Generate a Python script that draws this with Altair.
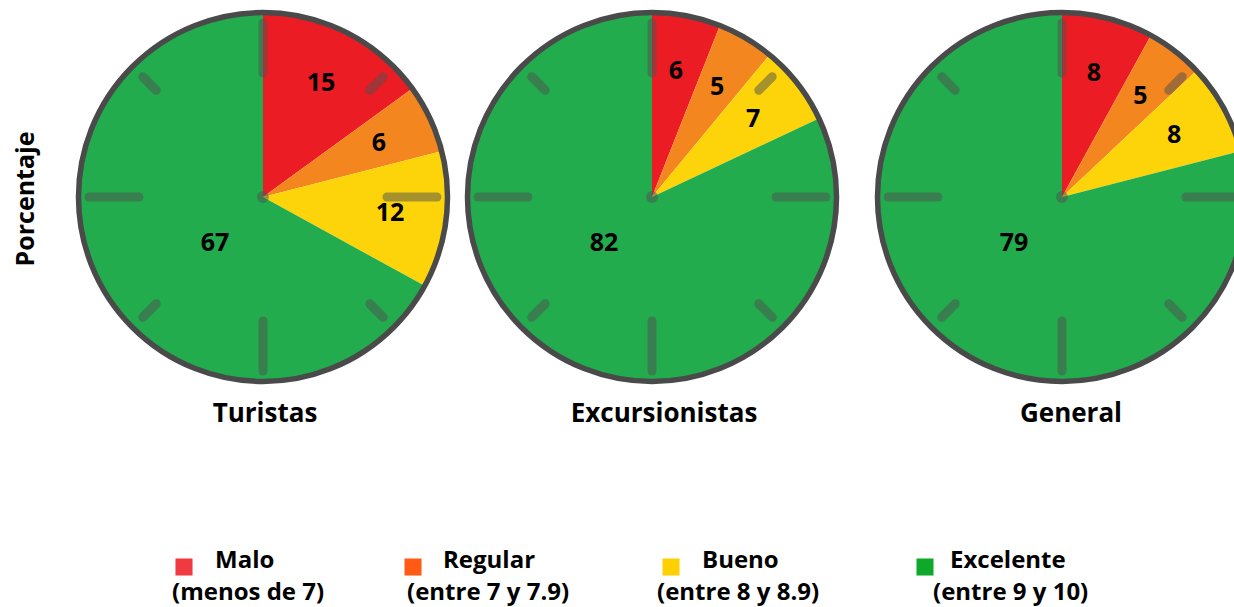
import altair as alt
import pandas as pd
import math

# ---------------- data ----------------
grupos = ["Turistas", "Excursionistas", "General"]
categorias = ["Malo", "Regular", "Bueno", "Excelente"]
rangos = ["(menos de 7)", "(entre 7 y 7.9)", "(entre 8 y 8.9)", "(entre 9 y 10)"]
turistas = [15, 6, 12, 67]
excursionistas = [6, 5, 7, 82]
general = [8, 5, 8, 79]
eje_titulo = "Porcentaje"

# ---------------- layout / style ----------------
W, H = 1234, 607
CX = [263, 652, 1062]          # pie centres
CY = 197
TITLE_X = [265, 664, 1071]
TITLE_Y = 422
R_FILL = 185
R_BORDER = 184.5
PIE_COLORS = ["#EC1C24", "#F3861F", "#FDD40A", "#22AC4E"]
LEG_COLORS = ["#EE3A40", "#FF5B14", "#FFD000", "#0EA82A"]
BORDER = "#4A4A4A"
TICK_COLOR = "#505050"
FONT = "Open Sans"
LEG_SQ_X = [184, 413, 671, 925]
LEG_T1_X = [215, 443, 702, 950]
LEG_T2_X = [172, 407, 657, 933]

valores = [turistas, excursionistas, general]
rows = []
for g, vals in zip(grupos, valores):
    for i, (c, v) in enumerate(zip(categorias, vals)):
        rows.append({"grupo": g, "categoria": c, "orden": i, "valor": v,
                     "etiqueta": "" if c == "Excelente" else str(v)})
df = pd.DataFrame(rows)

tick_ang = [0, 45, 90, 135, 180, 225, 270, 315]
tick_r0 = [124 if a % 90 == 0 else 151 for a in tick_ang]
tick_r1 = [174 if a % 90 == 0 else 170 for a in tick_ang]
ticks_df = pd.DataFrame({"ang": tick_ang, "r0": tick_r0, "r1": tick_r1})
one = pd.DataFrame({"k": [0]})

layers = []
color_scale = alt.Scale(domain=categorias, range=PIE_COLORS)
for g, cx in zip(grupos, CX):
    src = alt.Chart(df).transform_filter(alt.datum.grupo == g)
    arc = src.mark_arc(radius=R_FILL).encode(
        theta=alt.Theta("valor:Q", stack=True),
        order=alt.Order("orden:Q"),
        color=alt.Color("categoria:N", scale=color_scale, legend=None),
        x=alt.value(cx), y=alt.value(CY),
    )
    ticks = alt.Chart(ticks_df).transform_calculate(
        x0=f"{cx} + datum.r0*sin(datum.ang*PI/180)",
        y0=f"{CY} - datum.r0*cos(datum.ang*PI/180)",
        x1=f"{cx} + datum.r1*sin(datum.ang*PI/180)",
        y1=f"{CY} - datum.r1*cos(datum.ang*PI/180)",
    ).mark_rule(strokeWidth=9, strokeCap="round", color=TICK_COLOR, opacity=0.5).encode(
        x=alt.X("x0:Q", scale=None, axis=None),
        y=alt.Y("y0:Q", scale=None, axis=None),
        x2="x1:Q", y2="y1:Q",
    )
    dot = alt.Chart(one).mark_circle(size=140, color=TICK_COLOR, opacity=0.5).encode(
        x=alt.value(cx), y=alt.value(CY))
    border = alt.Chart(one).mark_arc(radius=R_BORDER, filled=False, stroke=BORDER,
                                     strokeWidth=5.5).encode(
        theta=alt.value(0), theta2=alt.value(2 * math.pi),
        x=alt.value(cx), y=alt.value(CY))
    lbl = src.mark_text(radius=128, font=FONT, fontSize=25, fontWeight="bold",
                        color="black", baseline="middle").encode(
        theta=alt.Theta("valor:Q", stack=True),
        order=alt.Order("orden:Q"),
        text="etiqueta:N",
        x=alt.value(cx), y=alt.value(CY),
    )
    big = src.transform_filter(alt.datum.categoria == "Excelente").mark_text(
        dx=-48, dy=46, font=FONT, fontSize=25, fontWeight="bold", color="black",
        baseline="middle").encode(text="valor:Q", x=alt.value(cx), y=alt.value(CY))
    layers += [arc, ticks, dot, border, lbl, big]

titles_df = pd.DataFrame({"grupo": grupos, "tx": TITLE_X})
titles = alt.Chart(titles_df).mark_text(font=FONT, fontSize=26, fontWeight="bold",
                                         color="black", baseline="alphabetic").encode(
    text="grupo:N", x=alt.X("tx:Q", scale=None, axis=None), y=alt.value(TITLE_Y))

ytitle = alt.Chart(pd.DataFrame({"t": [eje_titulo]})).mark_text(
    font=FONT, fontSize=25, fontWeight="bold", color="black", angle=270,
    baseline="middle").encode(text="t:N", x=alt.value(26), y=alt.value(199))

leg_df = pd.DataFrame({"categoria": categorias, "rango": rangos,
                       "sx": LEG_SQ_X, "t1": LEG_T1_X, "t2": LEG_T2_X})
leg_sq = alt.Chart(leg_df).mark_square(size=290, opacity=1).encode(
    x=alt.X("sx:Q", scale=None, axis=None), y=alt.value(567),
    color=alt.Color("categoria:N", scale=alt.Scale(domain=categorias, range=LEG_COLORS),
                    legend=None))
leg_t1 = alt.Chart(leg_df).mark_text(font=FONT, fontSize=24, fontWeight="bold", color="black",
                                     align="left", baseline="alphabetic").encode(
    text="categoria:N", x=alt.X("t1:Q", scale=None, axis=None), y=alt.value(568))
leg_t2 = alt.Chart(leg_df).mark_text(font=FONT, fontSize=24, fontWeight="bold", color="black",
                                     align="left", baseline="alphabetic").encode(
    text="rango:N", x=alt.X("t2:Q", scale=None, axis=None), y=alt.value(600))

layers += [titles, ytitle, leg_sq, leg_t1, leg_t2]

chart = alt.layer(*layers).resolve_scale(color="independent").properties(
    width=W, height=H, padding=0,
    autosize=alt.AutoSizeParams(type="none"),
    background="white",
).configure_view(strokeWidth=0)

chart.save("out.html", embed_options={"renderer": "svg", "actions": False})
